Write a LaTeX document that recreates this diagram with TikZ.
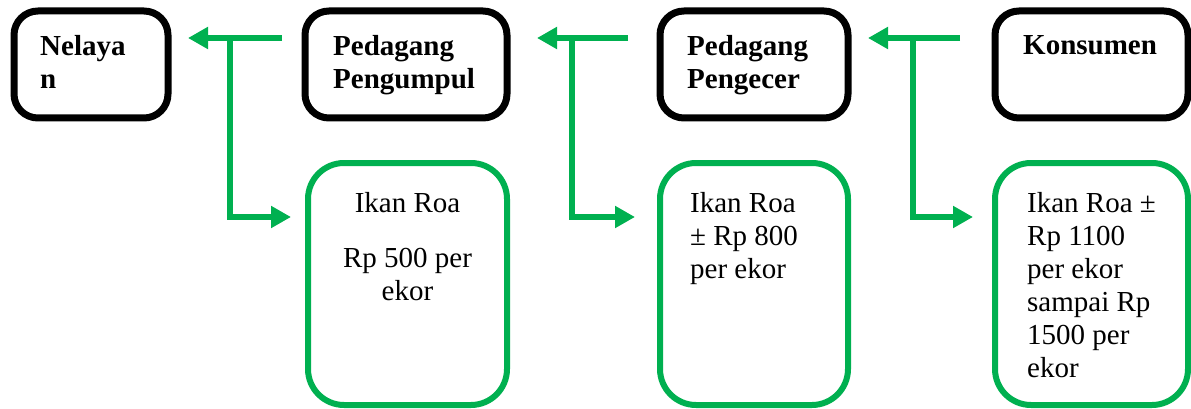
\documentclass[tikz,border=0pt]{standalone}
\usepackage{fontspec}
\setmainfont{Liberation Serif}
\usetikzlibrary{arrows.meta}
\definecolor{hijau}{RGB}{0,176,80}
\tikzset{
  pelaku/.style={draw=black, line width=7pt, rounded corners=24pt, outer sep=0pt, inner sep=0pt, anchor=north west},
  harga/.style={draw=hijau, line width=6pt, rounded corners=36pt, outer sep=0pt, inner sep=0pt, anchor=north west},
  teks/.style={font=\fontsize{29}{33}\selectfont, inner sep=0pt, anchor=base west, align=left},
  judul/.style={teks, font=\fontsize{29}{33}\selectfont\bfseries},
  alur/.style={draw=hijau, line width=6pt, -{Triangle[length=20pt,width=21pt]}}
}
\begin{document}
\begin{tikzpicture}[x=1pt,y=-1pt]
  \useasboundingbox (0,0) rectangle (1191,409);
  % pelaku pemasaran
  \node[pelaku, minimum width=154pt, minimum height=107pt] (nelayan) at (14,11) {};
  \node[pelaku, minimum width=202pt, minimum height=107pt] (pengumpul) at (305,11) {};
  \node[pelaku, minimum width=188pt, minimum height=107pt] (pengecer) at (660,11) {};
  \node[pelaku, minimum width=193pt, minimum height=107pt] (konsumen) at (995,11) {};
  % teks diletakkan pada baseline baris terakhir
  \node[judul] (tNelayan) at (40,89) {Nelaya\\n};
  \node[judul] (tPengumpul) at (333,89) {Pedagang\\Pengumpul};
  \node[judul] (tPengecer) at (687,89) {Pedagang\\Pengecer};
  \node[judul] (tKonsumen) at (1023,55) {Konsumen};
  % harga ikan
  \node[harga, minimum width=199pt, minimum height=242pt] (harga1) at (308,163) {};
  \node[harga, minimum width=188pt, minimum height=242pt] (harga2) at (660,163) {};
  \node[harga, minimum width=193pt, minimum height=242pt] (harga3) at (995,163) {};
  \node[teks, anchor=base, align=center] (tHarga1) at (407.5,300) {Ikan Roa\\[22pt]Rp 500 per\\ekor};
  \node[teks] (tHarga2) at (690,278) {Ikan Roa\\± Rp 800\\per ekor};
  \node[teks] (tHarga3) at (1027,377) {Ikan Roa ±\\Rp 1100\\per ekor\\sampai Rp\\1500 per\\ekor};
  % alur
  \coordinate (c1) at (230,38);
  \coordinate (c2) at (572,38);
  \coordinate (c3) at (913,38);
  \draw[alur] ([shift={(-23,27)}]pengumpul.north west) -- ([shift={(20,27)}]nelayan.north east);
  \draw[alur] ([shift={(-32,27)}]pengecer.north west) -- ([shift={(30,27)}]pengumpul.north east);
  \draw[alur] ([shift={(-35,27)}]konsumen.north west) -- ([shift={(20,27)}]pengecer.north east);
  \draw[alur] (c1) |- ([shift={(-17,54)}]harga1.north west);
  \draw[alur] (c2) |- ([shift={(-25,54)}]harga2.north west);
  \draw[alur] (c3) |- ([shift={(-22,54)}]harga3.north west);
\end{tikzpicture}
\end{document}
